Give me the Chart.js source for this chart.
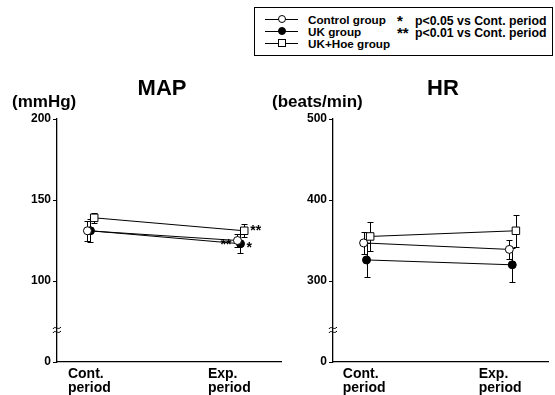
<!DOCTYPE html>
<html>
<head>
<meta charset="utf-8">
<script src="https://cdn.jsdelivr.net/npm/chart.js@4.4.0/dist/chart.umd.min.js"></script>
<style>
    body { margin: 0; width: 555px; height: 395px; background: #fff; position: relative; overflow: hidden;
           font-family: "Liberation Sans", Arial, sans-serif; }
    #mapChart { position: absolute; left: 0; top: 60px; }
    #hrChart { position: absolute; left: 270px; top: 60px; }
    #legend { position: absolute; left: 254px; top: 7px; width: 297px; height: 47px; border: 1px solid #000; }
    .lg { position: absolute; font-weight: bold; font-size: 11.7px; line-height: 12px; white-space: nowrap; color: #000; }
    .lg-line { position: absolute; height: 0; border-top: 1px solid #000; width: 33px; left: 10px; }
    .lg-mark { position: absolute; width: 6px; height: 6px; border: 1px solid #000; background: #fff; }
</style>
</head>
<body>
<div id="legend"></div>
<canvas id="mapChart" width="290" height="335"></canvas>
<canvas id="hrChart" width="285" height="335"></canvas>
<script>
// Categories / tick labels
const periodLabels = [['Cont.', 'period'], ['Exp.', 'period']];
const periodX = [0, 1];
const seriesNames = ['Control group', 'UK group', 'UK+Hoe group'];
const sigNotes = [['*', 'p<0.05 vs Cont. period'], ['**', 'p<0.01 vs Cont. period']];

// MAP (mmHg)
const mapControl = [131, 125];
const mapControlErr = [6, 4];
const mapUk = [131, 123];
const mapUkErr = [7, 6];
const mapHoe = [139, 131];
const mapHoeErr = [3, 4];
const mapControlSig = ['', '**'];
const mapUkSig = ['', '*'];
const mapHoeSig = ['', '**'];
const mapTicks = [0, 100, 150, 200];

// HR (beats/min)
const hrControl = [347, 339];
const hrControlErr = [14, 12];
const hrUk = [326, 320];
const hrUkErr = [21, 21];
const hrHoe = [355, 362];
const hrHoeErr = [18, 20];
const hrTicks = [0, 300, 400, 500];

const FONT = '"Liberation Sans", Arial, sans-serif';

// point look per group
const seriesStyles = [
    { fill: '#fff', style: 'circle', radius: 4, dx: -0.01, sigSide: -1, sigDy: 5 },
    { fill: '#000', style: 'circle', radius: 4, dx: 0.01, sigSide: 1, sigDy: 4 },
    { fill: '#fff', style: 'rect', radius: 5.3, dx: 0.035, sigSide: 1, sigDy: 0 }
];

// Error bars drawn behind the points
const errorBars = {
    id: 'errorBars',
    beforeDatasetsDraw(chart) {
        const { ctx, scales: { x, y } } = chart;
        ctx.save();
        ctx.strokeStyle = '#000';
        ctx.lineWidth = 1;
        chart.data.datasets.forEach(ds => {
            ds.data.forEach((p, j) => {
                const px = Math.round(x.getPixelForValue(p.x)) + 0.5;
                const top = Math.round(y.getPixelForValue(p.y + ds.errors[j])) + 0.5;
                const bot = Math.round(y.getPixelForValue(p.y - ds.errors[j])) + 0.5;
                ctx.beginPath();
                ctx.moveTo(px, top); ctx.lineTo(px, bot);
                ctx.moveTo(px - 3, top); ctx.lineTo(px + 3, top);
                ctx.moveTo(px - 3, bot); ctx.lineTo(px + 3, bot);
                ctx.stroke();
            });
        });
        ctx.restore();
    }
};

// Title, unit, axis break and significance stars
const panelText = {
    id: 'panelText',
    afterDraw(chart, args, opts) {
        const { ctx, chartArea } = chart;
        ctx.save();
        ctx.fillStyle = '#000';
        ctx.textBaseline = 'middle';
        ctx.font = 'bold 22px ' + FONT;
        ctx.textAlign = 'center';
        ctx.fillText(opts.title, opts.titleX, opts.titleY);
        ctx.font = 'bold 17px ' + FONT;
        ctx.textAlign = 'left';
        ctx.fillText(opts.unit, opts.unitX, opts.unitY);

        // broken axis mark
        const bx = chartArea.left, by = chartArea.bottom - 32;
        ctx.strokeStyle = '#000';
        ctx.lineWidth = 1;
        [-2, 2].forEach(off => {
            ctx.beginPath();
            ctx.moveTo(bx - 4, by + off + 1);
            ctx.bezierCurveTo(bx - 2, by + off - 3, bx + 1, by + off + 3, bx + 4, by + off - 1);
            ctx.stroke();
        });

        ctx.font = 'bold 14px ' + FONT;
        chart.data.datasets.forEach((ds, i) => {
            if (!ds.sig) return;
            const meta = chart.getDatasetMeta(i);
            ds.sig.forEach((s, j) => {
                if (!s) return;
                const el = meta.data[j];
                ctx.textAlign = ds.sigSide > 0 ? 'left' : 'right';
                ctx.fillText(s, el.x + ds.sigSide * 6, el.y + ds.sigDy);
            });
        });
        ctx.restore();
    }
};

function makeDataset(i, values, errors, sig) {
    const st = seriesStyles[i];
    return {
        label: seriesNames[i],
        data: values.map((v, j) => ({ x: periodX[j] + st.dx, y: v })),
        errors: errors,
        sig: sig,
        sigSide: st.sigSide,
        sigDy: st.sigDy,
        borderColor: '#000',
        borderWidth: 1,
        tension: 0,
        pointStyle: st.style,
        pointRadius: st.radius,
        pointBackgroundColor: st.fill,
        pointBorderColor: '#000',
        pointBorderWidth: 1
    };
}

function makeChart(id, cfg) {
    return new Chart(document.getElementById(id), {
        type: 'line',
        data: { datasets: cfg.datasets },
        plugins: [errorBars, panelText],
        options: {
            responsive: false,
            animation: false,
            devicePixelRatio: 1,
            layout: { padding: { top: 59, right: cfg.padRight, left: 0, bottom: 0 } },
            plugins: {
                legend: { display: false },
                tooltip: { enabled: false },
                panelText: cfg.text
            },
            scales: {
                x: {
                    type: 'linear',
                    min: cfg.xMin,
                    max: cfg.xMax,
                    afterBuildTicks: s => { s.ticks = cfg.labelX.map(v => ({ value: v })); },
                    afterFit: s => { s.height = 33; },
                    grid: { display: false, drawTicks: false },
                    border: { display: true, color: '#000', width: 1.3 },
                    ticks: {
                        autoSkip: false,
                        maxRotation: 0,
                        align: 'start',
                        padding: 5,
                        color: '#000',
                        font: { family: FONT, size: 14, weight: 'bold', lineHeight: 1.0 },
                        callback: (v, idx) => periodLabels[idx]
                    }
                },
                y: {
                    min: cfg.yMin,
                    max: cfg.yMax,
                    afterBuildTicks: s => {
                        s.ticks = cfg.ticks.map(v => ({ value: v === 0 ? cfg.yMin : v }));
                    },
                    afterFit: s => { s.width = cfg.yWidth; },
                    grid: { display: true, drawOnChartArea: false, drawTicks: true, tickLength: 4, color: '#000', lineWidth: 1 },
                    border: { display: true, color: '#000', width: 1.3 },
                    ticks: {
                        padding: 2,
                        color: '#000',
                        font: { family: FONT, size: 12, weight: 'bold' },
                        callback: v => (v === cfg.yMin ? '0' : v)
                    }
                }
            }
        }
    });
}

makeChart('mapChart', {
    datasets: [
        makeDataset(0, mapControl, mapControlErr, mapControlSig),
        makeDataset(1, mapUk, mapUkErr, mapUkSig),
        makeDataset(2, mapHoe, mapHoeErr, mapHoeSig)
    ],
    ticks: mapTicks,
    yMin: 50, yMax: 200, yWidth: 57,
    xMin: -0.213, xMax: 1.28,
    labelX: [-0.14, 0.793],
    padRight: 9,
    text: { title: 'MAP', titleX: 162, titleY: 29, unit: '(mmHg)', unitX: 12, unitY: 42 }
});

makeChart('hrChart', {
    datasets: [
        makeDataset(0, hrControl, hrControlErr, null),
        makeDataset(1, hrUk, hrUkErr, null),
        makeDataset(2, hrHoe, hrHoeErr, null)
    ],
    ticks: hrTicks,
    yMin: 200, yMax: 500, yWidth: 63,
    xMin: -0.22, xMax: 1.26,
    labelX: [-0.153, 0.78],
    padRight: 0,
    text: { title: 'HR', titleX: 173, titleY: 29, unit: '(beats/min)', unitX: 2, unitY: 42 }
});

// HTML legend
const legend = document.getElementById('legend');
const rowY = [11, 23, 35];
seriesNames.forEach((name, i) => {
    const st = seriesStyles[i];
    const line = document.createElement('div');
    line.className = 'lg-line';
    line.style.top = rowY[i] + 'px';
    legend.appendChild(line);
    const mark = document.createElement('div');
    mark.className = 'lg-mark';
    mark.style.left = '23px';
    mark.style.top = (rowY[i] - 4) + 'px';
    mark.style.background = st.fill;
    if (st.style === 'circle') mark.style.borderRadius = '50%';
    legend.appendChild(mark);
    const txt = document.createElement('div');
    txt.className = 'lg';
    txt.style.left = '53px';
    txt.style.top = (rowY[i] - 5) + 'px';
    txt.textContent = name;
    legend.appendChild(txt);
});
sigNotes.forEach((note, i) => {
    const star = document.createElement('div');
    star.className = 'lg';
    star.style.left = '142px';
    star.style.top = (rowY[i] - 4) + 'px';
    star.style.fontSize = '15px';
    star.textContent = note[0];
    legend.appendChild(star);
    const txt = document.createElement('div');
    txt.className = 'lg';
    txt.style.left = '160px';
    txt.style.top = (rowY[i] - 4) + 'px';
    txt.style.fontSize = '12.3px';
    txt.textContent = note[1];
    legend.appendChild(txt);
});
</script>
</body>
</html>
